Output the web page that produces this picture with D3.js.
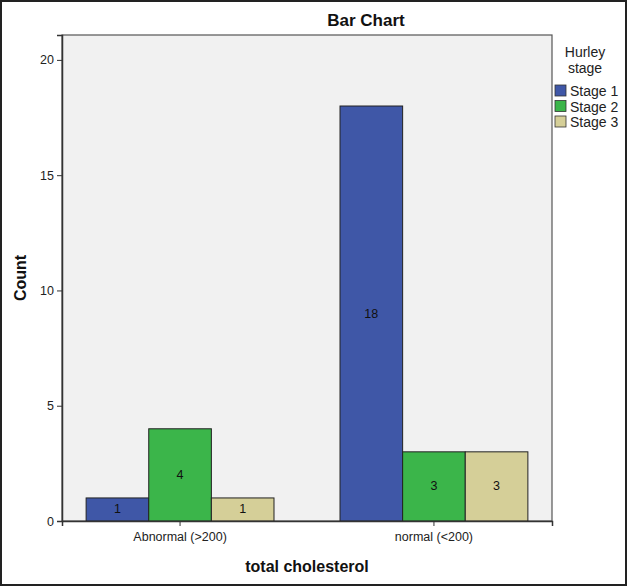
<!DOCTYPE html>
<html>
<head>
<meta charset="utf-8">
<script src="https://cdn.jsdelivr.net/npm/d3@7"></script>
<style>
  body { margin: 0; background: #fff; }
  svg { display: block; font-family: "Liberation Sans", Arial, sans-serif; }
</style>
</head>
<body>
<svg width="627" height="586"></svg>
<script>
// Data
const categories = ["Abnormal (>200)", "normal (<200)"];
const stages = ["Stage 1", "Stage 2", "Stage 3"];
const stage1 = [1, 18];
const stage2 = [4, 3];
const stage3 = [1, 3];
const yTicks = [0, 5, 10, 15, 20];
const stageColors = ["#3f57a7", "#3bb54a", "#d5cf98"];

const series = [stage1, stage2, stage3];
const rows = [];
categories.forEach((c, i) => {
    stages.forEach((s, j) => rows.push({ cat: c, stage: s, value: series[j][i], color: stageColors[j] }));
});

const svg = d3.select("svg");
const plot = { left: 62, right: 552, top: 35, bottom: 521 };

// Outer frame
svg.append("rect")
    .attr("x", 1).attr("y", 1)
    .attr("width", 625).attr("height", 584)
    .attr("fill", "#fff")
    .attr("stroke", "#222")
    .attr("stroke-width", 2);

// Scales
const x = d3.scaleBand()
    .domain(categories)
    .range([plot.left, plot.right])
    .paddingInner(0.26)
    .paddingOuter(0.095);

const xs = d3.scaleBand()
    .domain(stages)
    .range([0, x.bandwidth()]);

const y = d3.scaleLinear()
    .domain([0, 21.08])
    .range([plot.bottom, plot.top]);

// Plot background
svg.append("rect")
    .attr("x", plot.left).attr("y", plot.top)
    .attr("width", plot.right - plot.left)
    .attr("height", plot.bottom - plot.top)
    .attr("fill", "#f1f1f1")
    .attr("stroke", "#555")
    .attr("stroke-width", 1.2);

// Bars
const bars = svg.append("g")
    .selectAll("g")
    .data(rows)
    .join("g")
    .attr("transform", d => `translate(${x(d.cat) + xs(d.stage)},0)`);

bars.append("rect")
    .attr("y", d => y(d.value))
    .attr("width", xs.bandwidth())
    .attr("height", d => y(0) - y(d.value))
    .attr("fill", d => d.color)
    .attr("stroke", "#222")
    .attr("stroke-width", 1);

bars.append("text")
    .attr("x", xs.bandwidth() / 2)
    .attr("y", d => (y(0) + y(d.value)) / 2)
    .attr("text-anchor", "middle")
    .attr("dominant-baseline", "central")
    .style("font-size", "12.5px")
    .attr("fill", "#111")
    .text(d => d.value);

// Axes
const gx = svg.append("g")
    .attr("transform", `translate(0,${plot.bottom})`)
    .call(d3.axisBottom(x).tickSize(5).tickPadding(6));
gx.select(".domain").attr("stroke", "#333").attr("stroke-width", 1.5);
gx.selectAll(".tick line").attr("stroke", "#333");
gx.selectAll(".tick text").style("font-size", "12.5px").attr("fill", "#222");

const gy = svg.append("g")
    .attr("transform", `translate(${plot.left},0)`)
    .call(d3.axisLeft(y).tickValues(yTicks).tickSize(5).tickPadding(3));
gy.select(".domain").attr("stroke", "#333").attr("stroke-width", 1.5);
gy.selectAll(".tick line").attr("stroke", "#333");
gy.selectAll(".tick text").style("font-size", "12.5px").attr("fill", "#222");

// Titles
svg.append("text")
    .attr("x", 366).attr("y", 26)
    .attr("text-anchor", "middle")
    .style("font-size", "17px")
    .style("font-weight", "bold")
    .attr("fill", "#111")
    .text("Bar Chart");

svg.append("text")
    .attr("x", (plot.left + plot.right) / 2)
    .attr("y", 572)
    .attr("text-anchor", "middle")
    .style("font-size", "16px")
    .style("font-weight", "bold")
    .attr("fill", "#111")
    .text("total cholesterol");

svg.append("text")
    .attr("transform", `translate(26,${(plot.top + plot.bottom) / 2}) rotate(-90)`)
    .attr("text-anchor", "middle")
    .style("font-size", "16px")
    .style("font-weight", "bold")
    .attr("fill", "#111")
    .text("Count");

// Legend
const legend = svg.append("g");
legend.append("text")
    .attr("x", 585).attr("y", 52)
    .attr("text-anchor", "middle")
    .attr("dominant-baseline", "central")
    .style("font-size", "14px")
    .attr("fill", "#222")
    .text("Hurley");
legend.append("text")
    .attr("x", 585).attr("y", 67.5)
    .attr("text-anchor", "middle")
    .attr("dominant-baseline", "central")
    .style("font-size", "14px")
    .attr("fill", "#222")
    .text("stage");

const items = legend.selectAll(".item")
    .data(stages)
    .join("g")
    .attr("class", "item")
    .attr("transform", (d, i) => `translate(555,${85 + i * 15.5})`);
items.append("rect")
    .attr("width", 11).attr("height", 11)
    .attr("fill", (d, i) => stageColors[i])
    .attr("stroke", "#333")
    .attr("stroke-width", 0.8);
items.append("text")
    .attr("x", 15).attr("y", 6)
    .attr("dominant-baseline", "central")
    .style("font-size", "14px")
    .attr("fill", "#222")
    .text(d => d);
</script>
</body>
</html>
